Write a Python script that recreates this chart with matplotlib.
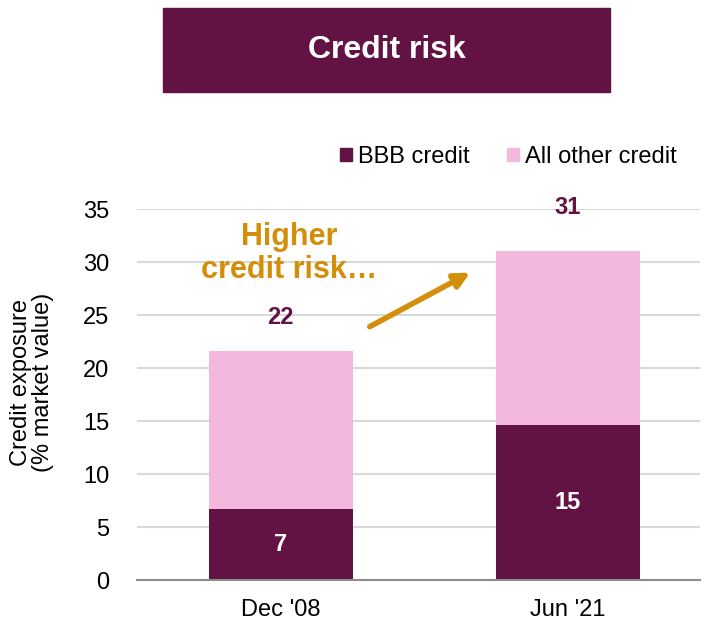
import numpy as np
import matplotlib
matplotlib.use('Agg')
import matplotlib.pyplot as plt
from matplotlib.patches import Rectangle, Patch

plt.rcParams['font.family'] = ['Liberation Sans', 'DejaVu Sans']

# ===============================
# Data
# ===============================
periods = ["Dec '08", "Jun '21"]
bbb_credit = [6.7, 14.6]
other_credit = [14.9, 16.4]
series_names = ['BBB credit', 'All other credit']
y_ticks = [0, 5, 10, 15, 20, 25, 30, 35]

MAROON = '#621343'
PINK = '#F2B9DC'
GOLD = '#D48F0A'

# ===============================
# Figure + axes
# ===============================
fig = plt.figure(figsize=(7.07, 6.23), dpi=100)
ax = fig.add_axes([0.194, 0.069, 0.796, 0.5955])

x = np.arange(len(periods))
totals = [b + o for b, o in zip(bbb_credit, other_credit)]

ax.bar(x, bbb_credit, width=0.5, color=MAROON, zorder=3)
ax.bar(x, other_credit, width=0.5, bottom=bbb_credit, color=PINK, zorder=3)

ax.set_xlim(-0.5, 1.46)
ax.set_ylim(0, 35)
ax.set_yticks(y_ticks)
ax.set_xticks(x)
ax.set_xticklabels(periods)
ax.tick_params(axis='both', labelsize=17, length=0, colors='#000000')
ax.tick_params(axis='y', pad=20)
ax.tick_params(axis='x', pad=14)
ax.grid(axis='y', color='#D9D9D9', linewidth=1.5, zorder=0)

for side in ['top', 'right', 'left']:
    ax.spines[side].set_visible(False)
ax.spines['bottom'].set_color('#8C8C8C')
ax.spines['bottom'].set_linewidth(1.5)
ax.spines['bottom'].set_zorder(4)

# value labels
for xi, b in zip(x, bbb_credit):
    ax.text(xi, b / 2, f'{b:.0f}', ha='center', va='center',
            color='white', fontsize=17, fontweight='bold', zorder=5)

total_offsets = [34, 44]
for xi, t, off in zip(x, totals, total_offsets):
    ax.annotate(f'{t:.0f}', xy=(xi, t), xytext=(0, off), textcoords='offset pixels',
                ha='center', va='center', color=MAROON, fontsize=17,
                fontweight='bold', annotation_clip=False)

# callout text + arrow
ax.text(0.03, 30.8, 'Higher\ncredit risk…', ha='center', va='center',
        color=GOLD, fontsize=22, fontweight='bold', linespacing=1.1)
ax.annotate('', xy=(0.66, 29.0), xytext=(0.31, 23.9),
            arrowprops=dict(arrowstyle='-|>,head_length=0.9,head_width=0.45',
                            color=GOLD, lw=4, shrinkA=0, shrinkB=0))

# y label
fig.text(32 / 707, 1 - 382 / 623, 'Credit exposure\n(% market value)',
         rotation=90, ha='center', va='center', fontsize=17, linespacing=1.05)

# legend
handles = [Patch(color=MAROON), Patch(color=PINK)]
fig.legend(handles, series_names, loc='center', bbox_to_anchor=(0.719, 0.748),
           ncol=2, frameon=False, fontsize=17, handlelength=0.5,
           handleheight=0.5, handletextpad=0.25, columnspacing=1.6)

# title banner
fig.patches.append(Rectangle((163 / 707, 1 - 92 / 623), 447 / 707, 84 / 623,
                             transform=fig.transFigure, color=MAROON, zorder=0))
fig.text(386.5 / 707, 1 - 50 / 623, 'Credit risk', ha='center', va='center',
         color='white', fontsize=23, fontweight='bold')

fig.savefig('out.png', dpi=100)
